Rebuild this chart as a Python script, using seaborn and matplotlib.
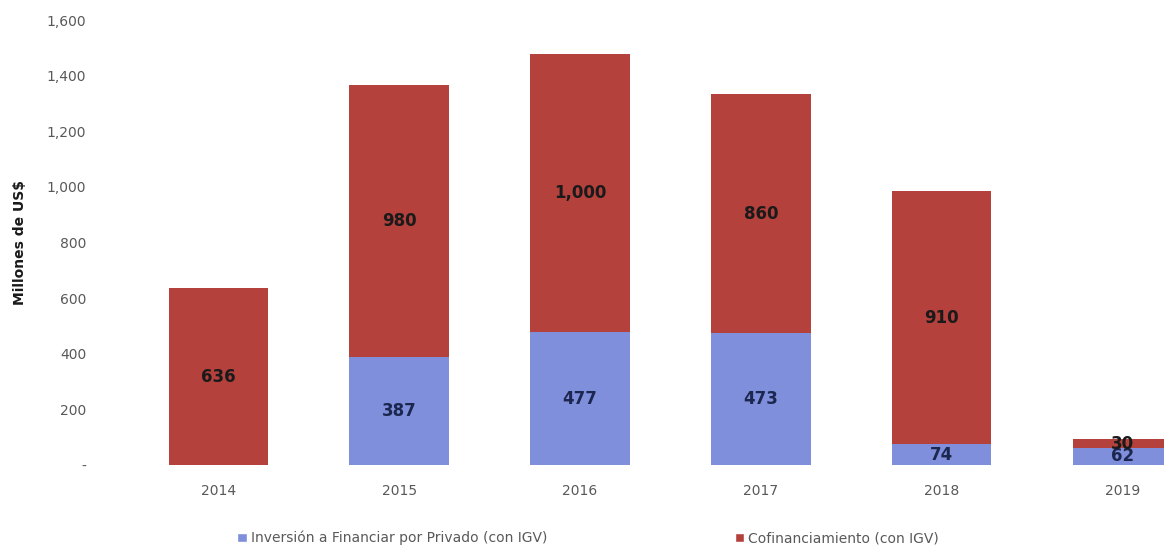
import matplotlib
matplotlib.use("Agg")
import matplotlib.pyplot as plt
import seaborn as sns
import pandas as pd
from matplotlib.patches import Patch
from matplotlib.ticker import FuncFormatter

years = ["2014", "2015", "2016", "2017", "2018", "2019"]
privado = [0, 387, 477, 473, 74, 62]
cofin = [636, 980, 1000, 860, 910, 30]
serie_privado = "Inversión a Financiar por Privado (con IGV)"
serie_cofin = "Cofinanciamiento (con IGV)"

blue = "#7f8fdc"
red = "#b5413d"

sns.set_theme(style="white")
plt.rcParams["font.family"] = ["DejaVu Sans"]

df = pd.DataFrame({"year": years, "privado": privado, "cofin": cofin})
df["total"] = df["privado"] + df["cofin"]

fig = plt.figure(figsize=(11.64, 5.55), dpi=100)
ax = fig.add_axes([128 / 1164, 90 / 555, (1164 - 128) / 1164, 445 / 555])

# stacked look: full totals in red, private share drawn over them in blue
sns.barplot(data=df, x="year", y="total", color=red, saturation=1, width=0.55,
            linewidth=0, ax=ax)
sns.barplot(data=df, x="year", y="privado", color=blue, saturation=1, width=0.55,
            linewidth=0, ax=ax)

for i, (p, c) in enumerate(zip(privado, cofin)):
    if p > 0:
        ax.text(i, p / 2, f"{p:,}", ha="center", va="center", fontsize=12,
                fontweight="bold", color="#1c2750")
    ax.text(i, p + c / 2, f"{c:,}", ha="center", va="center", fontsize=12,
            fontweight="bold", color="#1a1a1a")

ax.set_ylim(0, 1600)
ax.set_xlim(-0.5, 5.23)
ax.set_yticks(range(0, 1601, 200))
ax.yaxis.set_major_formatter(FuncFormatter(lambda v, _: "-" if v == 0 else f"{int(v):,}"))
ax.tick_params(axis="both", length=0, labelsize=10, colors="#595959")
ax.tick_params(axis="x", pad=14)
ax.tick_params(axis="y", pad=30)
ax.set_xlabel("")
ax.set_ylabel("Millones de US$", fontsize=10, fontweight="bold", color="#1a1a1a", labelpad=14)
for s in ax.spines.values():
    s.set_visible(False)

handles = [Patch(facecolor=blue, label=serie_privado), Patch(facecolor=red, label=serie_cofin)]
fig.legend(handles=handles, loc="center", bbox_to_anchor=(588 / 1164, 1 - 538 / 555), ncol=2,
           frameon=False, fontsize=10, labelcolor="#595959", handlelength=0.7,
           handleheight=0.7, handletextpad=0.3, columnspacing=13.5)

fig.savefig("out.png", dpi=100)
